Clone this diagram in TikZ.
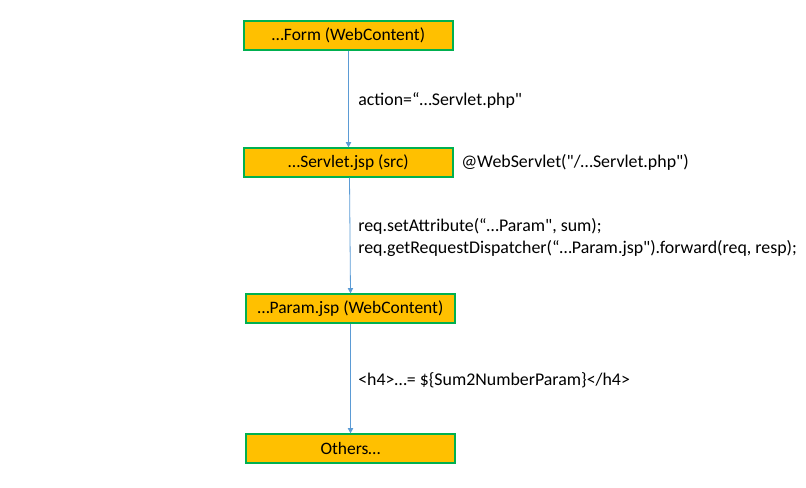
\documentclass[tikz,border=0pt]{standalone}
\usepackage{fontspec}
\defaultfontfeatures[\rmfamily]{}
\setmainfont{Carlito}
\usetikzlibrary{arrows.meta}
\definecolor{boxfill}{HTML}{FFC000}
\definecolor{boxline}{HTML}{00B050}
\definecolor{arrowc}{HTML}{5B9BD5}
\tikzset{
  x=0.75pt, y=-0.75pt,
  box/.style={draw=boxline, fill=boxfill, line width=0.9pt, minimum width=156.75pt, minimum height=21.75pt, inner sep=0pt, font=\fontsize{13.1}{15}\selectfont, text=black},
  lbl/.style={anchor=west, inner sep=0pt, font=\fontsize{13.4}{16.5}\selectfont, text=black, align=left},
  conn/.style={draw=arrowc, line width=0.6pt, -{Triangle[length=4pt, width=4pt]}}
}
\begin{document}
\begin{tikzpicture}
\useasboundingbox (0,0) rectangle (806,488);
\node[box] (form) at (348.5,35.5) {…Form (WebContent)};
\node[box] (servlet) at (348.5,162.5) {…Servlet.jsp (src)};
\node[box] (param) at (350.5,308.5) {…Param.jsp (WebContent)};
\node[box] (others) at (350.5,448.5) {Others…};
\draw[conn] (form.south) -- (servlet.north);
\draw[conn] ([xshift=0.75pt]servlet.south) -- (param.north);
\draw[conn] (param.south) -- (others.north);
\node[lbl] (l1) at (358,100) {action=“…Servlet.php"};
\node[lbl] (l2) at (461,162) {@WebServlet("/…Servlet.php")};
\node[lbl] (l3) at (358,238) {req.setAttribute(“…Param", sum);\\req.getRequestDispatcher(“…Param.jsp").forward(req, resp);};
\node[lbl] (l4) at (358,380) {<h4>…= \$\{Sum2NumberParam\}</h4>};
\end{tikzpicture}
\end{document}
